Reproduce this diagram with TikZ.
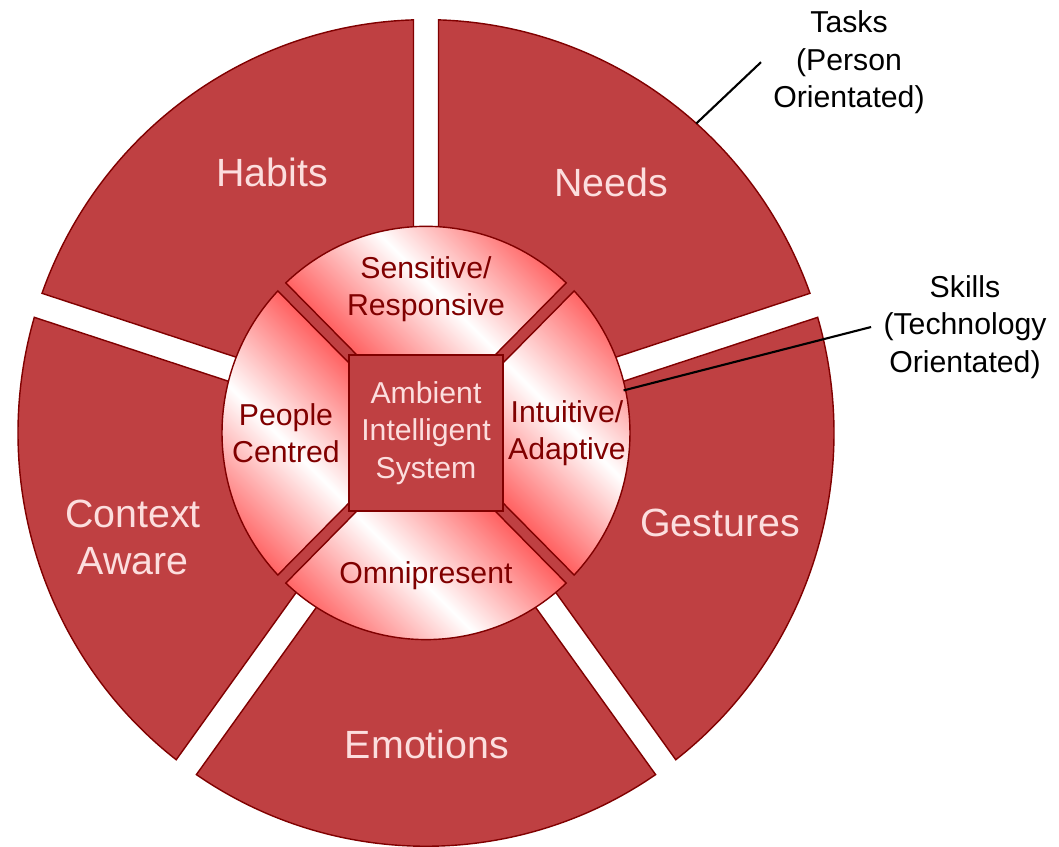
\documentclass[tikz,border=0pt]{standalone}
\usepackage{fontspec}
\setmainfont{Liberation Sans}
\definecolor{segred}{RGB}{191,64,66}
\definecolor{segline}{RGB}{128,0,0}
\definecolor{shadered}{RGB}{255,88,88}
\definecolor{labelpink}{RGB}{252,222,222}

\begin{document}
\begin{tikzpicture}[
  x=1cm, y=1.013cm,
  outerseg/.style={
    fill=segred,
    draw=segline,
    line width=0.4pt
    },
  innerseg/.style={
    draw=segline,
    line width=0.4pt,
    top color=shadered,
    bottom color=shadered,
    middle color=white,
    shading angle=-45
    },
  outerlabel/.style={
    text=labelpink,
    align=center,
    font=\fontsize{11.2}{13.4}\selectfont
    },
  innerlabel/.style={
    text=segline,
    align=center,
    font=\fontsize{8.6}{10.6}\selectfont
    },
  note/.style={
    align=center,
    font=\fontsize{8.6}{10.7}\selectfont
    }
]

\useasboundingbox (-4.26,-4.087) rectangle (6.33,4.274);

% outer ring, five wedges with straight gaps
\foreach \a in {18,90,162,234,306}
\draw[outerseg] (\a+36:0.2127) -- (\a+1.75:4.08)
  arc[start angle=\a+1.75, end angle=\a+70.25, radius=4.08] -- cycle;

\fill[segred] (0,0) circle[radius=2.04];

% inner ring, four shaded pieces round the core
\foreach \t in {0,90,180,270}
\draw[innerseg] (\t-41.9:1.034) -- (\t-43.42:2.04)
  arc[start angle=\t-43.42, end angle=\t+43.42, radius=2.04] -- (\t+41.9:1.034) -- cycle;

\node[draw=segline, fill=segred, minimum width=1.54cm, minimum height=1.56cm,
  inner sep=0pt, text=labelpink, align=center, font=\fontsize{8.6}{10.7}\selectfont]
  (core) at (0,0) {Ambient\\Intelligent\\System};

\node[outerlabel] (habits) at (-1.54,2.57) {Habits};
\node[outerlabel] (needs) at (1.85,2.47) {Needs};
\node[outerlabel] (context) at (-2.93,-1.03) {Context\\Aware};
\node[outerlabel] (gestures) at (2.94,-0.89) {Gestures};
\node[outerlabel] (emotions) at (0.01,-3.07) {Emotions};

\node[innerlabel] (sensitive) at (0,1.42) {Sensitive/\\Responsive};
\node[innerlabel] (people) at (-1.40,0) {People\\Centred};
\node[innerlabel] (intuitive) at (1.41,0) {Intuitive/\\Adaptive};
\node[innerlabel] (omni) at (0,-1.41) {Omnipresent};

% notes
\node[note] (tasks) at (4.23,3.66) {Tasks\\(Person\\Orientated)};
\node[note] (skills) at (5.39,1.046) {Skills\\(Technology\\Orientated)};
\coordinate (taskfoot) at (48.5:4.08);
\coordinate (skillfoot) at (12:2.02);
\draw[line width=0.6pt] (taskfoot) -- (tasks.west);
\draw[line width=0.6pt] (skillfoot) -- (skills.west);

\end{tikzpicture}
\end{document}
